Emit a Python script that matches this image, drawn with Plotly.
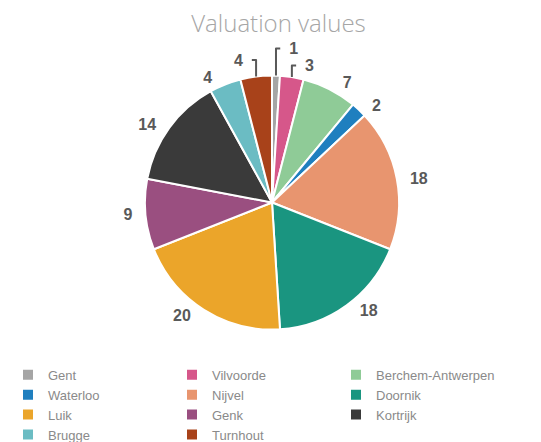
import plotly.graph_objects as go

labels = ["Gent", "Vilvoorde", "Berchem-Antwerpen", "Waterloo", "Nijvel", "Doornik",
          "Luik", "Genk", "Kortrijk", "Brugge", "Turnhout"]
values = [1, 3, 7, 2, 18, 18, 20, 9, 14, 4, 4]
colors = ["#a5a5a5", "#d6578a", "#8fcb97", "#1f7fbf", "#e8956f", "#1a9580",
          "#eba52a", "#9a4f80", "#3a3a3a", "#6bbcc3", "#a8421a"]

W, H = 541, 442
cx, cy, r = 264, 199, 130
pad = "\u00a0\u00a0"

fig = go.Figure(go.Pie(
    labels=labels, values=values, sort=False, direction="clockwise", rotation=0,
    marker=dict(colors=colors, line=dict(color="white", width=2)),
    texttemplate=pad + "%{value}" + pad, textposition="outside",
    textfont=dict(family="Liberation Sans, Arial", size=16, color="#595959", weight="bold"),
    domain=dict(x=[(cx - r) / W, (cx + r) / W], y=[(H - cy - r) / H, (H - cy + r) / H]),
    hoverinfo="label+value",
))

fig.update_layout(
    width=W, height=H,
    margin=dict(l=0, r=0, t=0, b=0),
    paper_bgcolor="white",
    title=dict(text="Valuation values", x=0.5, xanchor="center", y=1 - 7 / H, yanchor="top",
               font=dict(family="Open Sans", size=24, color="#a6a6a6", weight=300)),
    legend=dict(orientation="h", x=0.0, xanchor="left", y=1 - 360 / H, yanchor="top",
                entrywidth=119, entrywidthmode="pixels",
                font=dict(family="Liberation Sans, Arial", size=13, color="#8a8a8a"),
                itemwidth=30, tracegroupgap=0),
)

fig.write_html("out.html")
